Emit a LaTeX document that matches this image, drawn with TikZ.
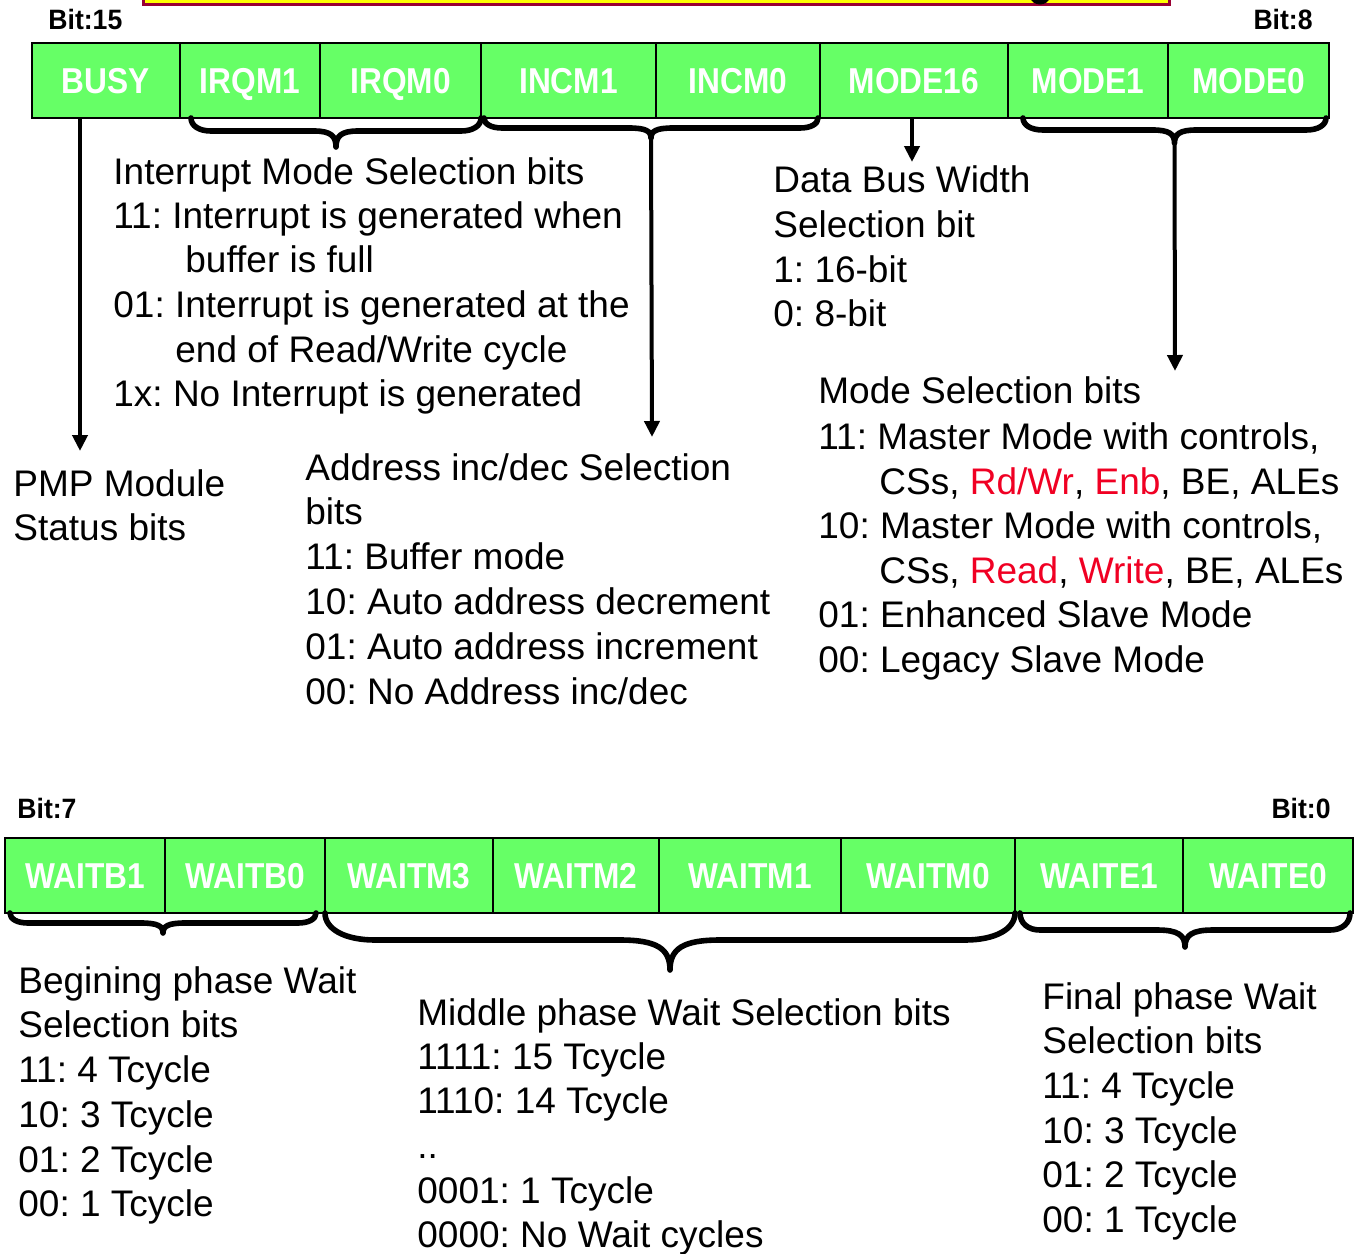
\documentclass[tikz,border=0pt]{standalone}
\usepackage{fontspec}
\setmainfont{Liberation Sans}
\newfontfamily\regfont[FakeStretch=0.88]{Liberation Sans}
\newfontfamily\bitfont[FakeStretch=0.95]{Liberation Sans}
\usetikzlibrary{arrows.meta}
\frenchspacing
\definecolor{regfill}{HTML}{66FF66}
\definecolor{hilite}{RGB}{240,0,35}
\definecolor{titlefill}{HTML}{FFFF00}
\definecolor{titleedge}{HTML}{990033}
\tikzset{
  cell/.style={draw=black, line width=1.3pt, fill=regfill, inner sep=0pt,
    minimum height=37.5pt, text=white, text height=12.9pt, text depth=0pt,
    font=\regfont\bfseries\fontsize{18}{18}\selectfont},
  bitlabel/.style={inner sep=0pt, font=\bitfont\bfseries\fontsize{14}{14}\selectfont},
  txt/.style={inner sep=0pt, anchor=base west, font=\fontsize{18.5}{22}\selectfont},
  bracestyle/.style={line width=2.8pt, line cap=round, line join=round},
  pointer/.style={line width=2pt, -{Triangle[width=7.5pt,length=8pt]}},
}
% brace under a group of cells: name, x1, x2, top, level, tip, end radius, tip radius
\newcommand\regbrace[8]{%
  \pgfmathsetmacro\bxm{(#2+#3)/2}%
  \pgfmathsetmacro\bya{#4+0.6*(#5-#4)}%
  \pgfmathsetmacro\byt{#5+0.3*(#6-#5)}%
  \pgfmathsetmacro\bxa{#2+0.4*#7}%
  \pgfmathsetmacro\bxb{#3-0.4*#7}%
  \pgfmathsetmacro\bxl{\bxm-0.25*#8}%
  \pgfmathsetmacro\bxr{\bxm+0.25*#8}%
  \draw[bracestyle] (#2,#4) .. controls (#2,\bya) and (\bxa,#5) .. (#2+#7,#5)
    -- (\bxm-#8,#5) .. controls (\bxl,#5) and (\bxm,\byt) .. (\bxm,#6)
    .. controls (\bxm,\byt) and (\bxr,#5) .. (\bxm+#8,#5)
    -- (#3-#7,#5) .. controls (\bxb,#5) and (#3,\bya) .. (#3,#4);
  \coordinate (#1) at (\bxm,#6);
}
\newcommand\txtline[4]{\node[txt] (#1) at (#2,#3) {#4};}
\begin{document}
\begin{tikzpicture}[x=0.5pt,y=-0.5pt]
\useasboundingbox (0,0) rectangle (1365,1253);

% title banner (mostly above the page)
\draw[fill=titlefill, draw=titleedge, line width=1.5pt] (143,-60) rectangle (1169,4);
\fill (1030,-3) .. controls (1032,7) and (1048,7) .. (1050,-3) -- (1045,-3)
  .. controls (1044,1) and (1036,1) .. (1035,-3) -- cycle;

% ---------- upper byte ----------
\node[bitlabel, anchor=west] (b15) at (48,19) {Bit:15};
\node[bitlabel, anchor=east] (b8) at (1313,19) {Bit:8};
\foreach \nm/\a/\b/\lab in {busy/32/180/BUSY, irqa/180/320/IRQM1, irqb/320/481/IRQM0,
    inca/481/656/INCM1, incb/656/820/INCM0, msix/820/1008/MODE16,
    moda/1008/1168/MODE1, modb/1168/1329/MODE0}
  \node[cell, minimum width={(\b-\a)*0.5pt}] (\nm) at ({(\a+\b)/2},80.5) {\lab};

\regbrace{irqtip}{191}{481}{118}{131}{147}{20}{22}
\regbrace{inctip}{484}{818}{118}{128}{138}{18}{22}
\regbrace{modtip}{1023}{1326}{118}{130}{143}{20}{22}

\coordinate (busyend) at (80,451);
\coordinate (incend) at (652,437);
\coordinate (modend) at (1175,371);
\coordinate (m16end) at (912,162);
\draw[pointer] (busy.south -| busyend) -- (busyend);
\draw[pointer] (inctip) -- (incend);
\draw[pointer] (modtip) -- (modend);
\draw[pointer] (msix.south -| m16end) -- (m16end);

\txtline{ia}{113}{184}{Interrupt Mode Selection bits}
\txtline{ib}{113}{228}{11: Interrupt is generated when}
\txtline{ic}{185}{272}{buffer is full}
\txtline{id}{113}{317}{01: Interrupt is generated at the}
\txtline{ie}{175}{362}{end of Read/Write cycle}
\txtline{if}{113}{406}{1x: No Interrupt is generated}

\txtline{da}{773}{192}{Data Bus Width}
\txtline{db}{773}{237}{Selection bit}
\txtline{dc}{773}{282}{1: 16-bit}
\txtline{dd}{773}{326}{0: 8-bit}

\txtline{ma}{818}{403}{Mode Selection bits}
\txtline{mb}{818}{449}{11: Master Mode with controls,}
\txtline{mc}{879}{494}{CSs, \textcolor{hilite}{Rd/Wr}, \textcolor{hilite}{Enb}, BE, ALEs}
\txtline{md}{818}{538}{10: Master Mode with controls,}
\txtline{me}{879}{583}{CSs, \textcolor{hilite}{Read}, \textcolor{hilite}{Write}, BE, ALEs}
\txtline{mf}{818}{627}{01: Enhanced Slave Mode}
\txtline{mg}{818}{672}{00: Legacy Slave Mode}

\txtline{pa}{13}{496}{PMP Module}
\txtline{pb}{13}{540}{Status bits}

\txtline{aa}{305}{480}{Address inc/dec Selection}
\txtline{ab}{305}{524}{bits}
\txtline{ac}{305}{569}{11: Buffer mode}
\txtline{ad}{305}{614}{10: Auto address decrement}
\txtline{ae}{305}{659}{01: Auto address increment}
\txtline{af}{305}{704}{00: No Address inc/dec}

% ---------- lower byte ----------
\node[bitlabel, anchor=west] (b7) at (17,808) {Bit:7};
\node[bitlabel, anchor=east] (b0) at (1331,808) {Bit:0};
\foreach \nm/\a/\b/\lab in {wba/5/165/WAITB1, wbb/165/325/WAITB0, wma/325/493/WAITM3,
    wmb/493/659/WAITM2, wmc/659/841/WAITM1, wmd/841/1015/WAITM0,
    wea/1015/1183/WAITE1, web/1183/1353/WAITE0}
  \node[cell, minimum width={(\b-\a)*0.5pt}] (\nm) at ({(\a+\b)/2},875.5) {\lab};

\regbrace{wbtip}{10}{316}{913}{923}{933}{18}{22}
\regbrace{wmtip}{325}{1015}{913}{940}{970}{50}{50}
\regbrace{wetip}{1020}{1350}{913}{930}{947}{20}{28}

\txtline{ba}{18}{993}{Begining phase Wait}
\txtline{bb}{18}{1037}{Selection bits}
\txtline{bc}{18}{1082}{11: 4 Tcycle}
\txtline{bd}{18}{1127}{10: 3 Tcycle}
\txtline{be}{18}{1172}{01: 2 Tcycle}
\txtline{bf}{18}{1216}{00: 1 Tcycle}

\txtline{ca}{417}{1025}{Middle phase Wait Selection bits}
\txtline{cb}{417}{1069}{1111: 15 Tcycle}
\txtline{cc}{417}{1113}{1110: 14 Tcycle}
\txtline{cd}{417}{1158}{..}
\txtline{ce}{417}{1203}{0001: 1 Tcycle}
\txtline{cf}{417}{1247}{0000: No Wait cycles}

\txtline{fa}{1042}{1009}{Final phase Wait}
\txtline{fb}{1042}{1053}{Selection bits}
\txtline{fc}{1042}{1098}{11: 4 Tcycle}
\txtline{fd}{1042}{1143}{10: 3 Tcycle}
\txtline{fe}{1042}{1187}{01: 2 Tcycle}
\txtline{ff}{1042}{1232}{00: 1 Tcycle}
\end{tikzpicture}
\end{document}
